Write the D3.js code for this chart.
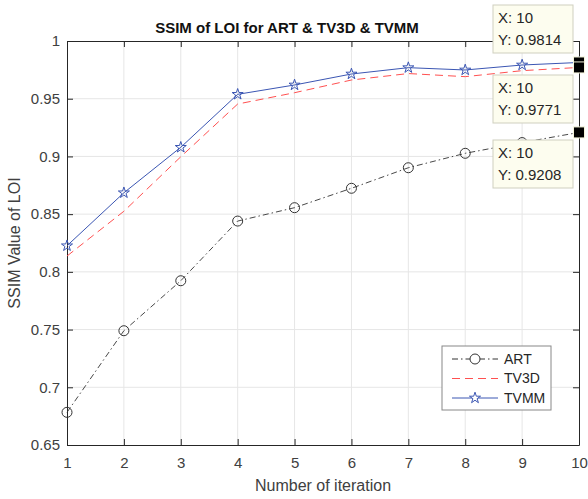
<!DOCTYPE html>
<html>
<head>
<meta charset="utf-8">
<script src="https://cdn.jsdelivr.net/npm/d3@7"></script>
<style>
  body { margin: 0; background: #fff; }
  text { font-family: "Liberation Sans", Arial, sans-serif; }
</style>
</head>
<body>
<div id="chart"></div>
<script>
// data
const iterations = [1, 2, 3, 4, 5, 6, 7, 8, 9, 10];
const art  = [0.6783, 0.7490, 0.7923, 0.8440, 0.8556, 0.8724, 0.8902, 0.9027, 0.9120, 0.9208];
const tv3d = [0.8137, 0.8525, 0.8997, 0.9454, 0.9552, 0.9662, 0.9718, 0.9691, 0.9743, 0.9771];
const tvmm = [0.8226, 0.8685, 0.9079, 0.9538, 0.9619, 0.9714, 0.9769, 0.9749, 0.9792, 0.9814];
const yTicks = [0.65, 0.7, 0.75, 0.8, 0.85, 0.9, 0.95, 1];
const tips = [ // datatips at x = 10
  { x: 10, y: 0.9814, boxTop: 5 },
  { x: 10, y: 0.9771, boxTop: 75 },
  { x: 10, y: 0.9208, boxTop: 140 }
];

const W = 588, H = 499;
const margin = { left: 67, right: 9, top: 41, bottom: 54 };

const svg = d3.select("#chart").append("svg")
    .attr("width", W)
    .attr("height", H);

const x = d3.scaleLinear().domain([1, 10]).range([margin.left, W - margin.right]);
const y = d3.scaleLinear().domain([0.65, 1]).range([H - margin.bottom, margin.top]);

// grid
svg.append("g").selectAll("line")
    .data(iterations.slice(1, -1))
    .enter().append("line")
    .attr("x1", d => x(d)).attr("x2", d => x(d))
    .attr("y1", y(0.65)).attr("y2", y(1))
    .style("stroke", "#e6e6e6");

svg.append("g").selectAll("line")
    .data(yTicks.slice(1, -1))
    .enter().append("line")
    .attr("x1", x(1)).attr("x2", x(10))
    .attr("y1", d => y(d)).attr("y2", d => y(d))
    .style("stroke", "#e6e6e6");

// axes (ticks inside, box on)
const tickLen = 6;
const xAxis = svg.append("g")
    .attr("transform", `translate(0, ${y(0.65)})`)
    .call(d3.axisBottom(x).tickValues(iterations).tickSizeInner(-tickLen).tickSizeOuter(0).tickPadding(12).tickFormat(d3.format("d")));
const xAxisTop = svg.append("g")
    .attr("transform", `translate(0, ${y(1)})`)
    .call(d3.axisTop(x).tickValues(iterations).tickSizeInner(-tickLen).tickSizeOuter(0).tickFormat(""));
const yAxis = svg.append("g")
    .attr("transform", `translate(${x(1)}, 0)`)
    .call(d3.axisLeft(y).tickValues(yTicks).tickSizeInner(-tickLen).tickSizeOuter(0).tickPadding(7).tickFormat(d => d3.format("")(+d.toFixed(2))));
const yAxisRight = svg.append("g")
    .attr("transform", `translate(${x(10)}, 0)`)
    .call(d3.axisRight(y).tickValues(yTicks).tickSizeInner(-tickLen).tickSizeOuter(0).tickFormat(""));

[xAxis, xAxisTop, yAxis, yAxisRight].forEach(g => {
    g.select(".domain").style("stroke", "#262626");
    g.selectAll(".tick line").style("stroke", "#262626");
    g.selectAll(".tick text")
        .style("font-size", "15px")
        .style("fill", "#404040")
        .style("font-family", "'Liberation Sans', Arial, sans-serif");
});

// lines
const line = d3.line().x((d, i) => x(iterations[i])).y(d => y(d));

svg.append("path").datum(art)
    .attr("d", line)
    .style("fill", "none")
    .style("stroke", "#333")
    .style("stroke-width", 0.9)
    .style("stroke-dasharray", "6,3,1.5,3");

svg.append("path").datum(tv3d)
    .attr("d", line)
    .style("fill", "none")
    .style("stroke", "#ff5050")
    .style("stroke-width", 1)
    .style("stroke-dasharray", "8,5");

svg.append("path").datum(tvmm)
    .attr("d", line)
    .style("fill", "none")
    .style("stroke", "#3b56b3")
    .style("stroke-width", 1);

// markers
svg.append("g").selectAll("circle")
    .data(art)
    .enter().append("circle")
    .attr("cx", (d, i) => x(iterations[i]))
    .attr("cy", d => y(d))
    .attr("r", 5)
    .style("fill", "none")
    .style("stroke", "#333")
    .style("stroke-width", 1);

const star = d3.symbol().type(d3.symbolStar).size(38);
svg.append("g").selectAll("path")
    .data(tvmm)
    .enter().append("path")
    .attr("d", star)
    .attr("transform", (d, i) => `translate(${x(iterations[i])}, ${y(d)})`)
    .style("fill", "none")
    .style("stroke", "#3b56b3")
    .style("stroke-width", 1);

// title & labels
svg.append("text")
    .text("SSIM of LOI for ART & TV3D & TVMM")
    .attr("x", 287).attr("y", 33)
    .style("text-anchor", "middle")
    .style("font-size", "15px")
    .style("font-weight", "bold")
    .style("fill", "#111");

svg.append("text")
    .text("Number of iteration")
    .attr("x", (x(1) + x(10)) / 2).attr("y", 491)
    .style("text-anchor", "middle")
    .style("font-size", "16px")
    .style("fill", "#404040");

svg.append("text")
    .text("SSIM Value of LOI")
    .attr("transform", `translate(20, ${(y(0.65) + y(1)) / 2}) rotate(-90)`)
    .style("text-anchor", "middle")
    .style("font-size", "16px")
    .style("fill", "#404040");

// legend
const legend = svg.append("g").attr("transform", "translate(442, 346)");
legend.append("rect")
    .attr("width", 109).attr("height", 64)
    .style("fill", "#fff")
    .style("stroke", "#888");

const legendItems = [
    { name: "ART", color: "#333", dash: "6,3,1.5,3", marker: "circle" },
    { name: "TV3D", color: "#ff5050", dash: "8,5", marker: null },
    { name: "TVMM", color: "#3b56b3", dash: null, marker: "star" }
];
const item = legend.selectAll(".item")
    .data(legendItems)
    .enter().append("g")
    .attr("transform", (d, i) => `translate(0, ${13 + i * 19.5})`);
item.append("line")
    .attr("x1", 10).attr("x2", 56)
    .style("stroke", d => d.color)
    .style("stroke-dasharray", d => d.dash);
item.filter(d => d.marker === "circle").append("circle")
    .attr("cx", 33).attr("r", 5)
    .style("fill", "#fff").style("stroke", d => d.color);
item.filter(d => d.marker === "star").append("path")
    .attr("d", star)
    .attr("transform", "translate(33, 0)")
    .style("fill", "#fff").style("stroke", d => d.color);
item.append("text")
    .text(d => d.name)
    .attr("x", 62).attr("dy", "0.35em")
    .style("font-size", "14px")
    .style("fill", "#262626");

// datatips
tips.forEach(t => {
    svg.append("rect")
        .attr("x", x(t.x) - 5.5).attr("y", y(t.y) - 5.5)
        .attr("width", 11).attr("height", 11)
        .style("fill", "#000")
        .style("stroke", "#f5f5dc")
        .style("stroke-width", 1);
});
tips.forEach(t => {
    const g = svg.append("g").attr("transform", `translate(493, ${t.boxTop})`);
    g.append("rect")
        .attr("width", 80).attr("height", 48)
        .style("fill", "#fdfdef")
        .style("stroke", "#cfcfbf");
    g.append("text").text(`X: ${t.x}`)
        .attr("x", 5).attr("y", 13).attr("dy", "0.35em")
        .style("font-size", "15px").style("fill", "#262626");
    g.append("text").text(`Y: ${t.y}`)
        .attr("x", 5).attr("y", 35).attr("dy", "0.35em")
        .style("font-size", "15px").style("fill", "#262626");
});
</script>
</body>
</html>
